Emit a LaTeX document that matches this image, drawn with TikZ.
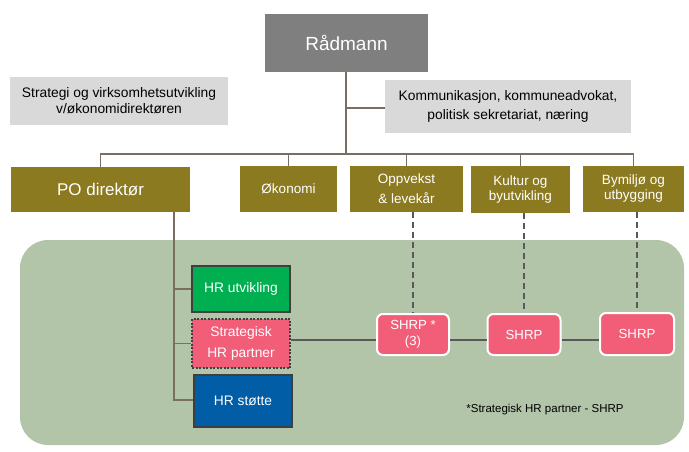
\documentclass[tikz,border=0pt]{standalone}
\usepackage{fontspec}
\setmainfont{Liberation Sans}
\usetikzlibrary{positioning}
\definecolor{radgray}{HTML}{7F7F7F}
\definecolor{lgray}{HTML}{D9D9D9}
\definecolor{olive}{HTML}{8C7A20}
\definecolor{conn}{HTML}{7A6E62}
\definecolor{region}{HTML}{B2C5A8}
\definecolor{hrgreen}{HTML}{00B050}
\definecolor{pink}{HTML}{F25E78}
\definecolor{hrblue}{HTML}{005DA6}
\definecolor{bord}{HTML}{3F3F3F}
\definecolor{dline}{HTML}{595959}
\tikzset{
  box/.style={inner sep=0pt, align=center, text=white},
  greybox/.style={box, fill=lgray, text=black, font=\fontsize{13.8}{16}\selectfont},
  olivebox/.style={box, fill=olive, font=\fontsize{13.5}{20}\selectfont},
  hrbox/.style={box, draw=bord, line width=2.5pt, font=\fontsize{13.8}{19}\selectfont},
  shrpbox/.style={box, fill=pink, draw=white, line width=2pt, rounded corners=6pt, font=\fontsize{13.2}{16}\selectfont},
  conline/.style={draw=conn, line width=1.5pt},
  darkline/.style={draw=dline, line width=2pt},
  dashline/.style={draw=dline, line width=1.5pt, dash pattern=on 6pt off 4pt},
}
\begin{document}
\begin{tikzpicture}[x=1pt,y=-1pt]
\useasboundingbox (0,0) rectangle (689,451);
% green region
\fill[region] (20,240) [rounded corners=28pt] rectangle (684,445);
% top nodes
\node[box, fill=radgray, minimum width=163pt, minimum height=58pt, font=\fontsize{19}{22}\selectfont] (rad) at (346.5,43) {Rådmann};
\node[greybox, minimum width=218pt, minimum height=48pt] (strat0) at (119,101) {Strategi og virksomhetsutvikling\\v/økonomidirektøren};
\node[greybox, minimum width=246pt, minimum height=53pt, font=\fontsize{13.8}{19}\selectfont] (komm) at (508,106.5) {Kommunikasjon, kommuneadvokat,\\politisk sekretariat, næring};
% olive row
\node[olivebox, minimum width=179pt, minimum height=45pt, font=\fontsize{17}{19}\selectfont] (po) at (100.5,189.5) {PO direktør};
\node[olivebox, minimum width=97pt, minimum height=46pt] (oko) at (288.5,189) {Økonomi};
\node[olivebox, minimum width=113pt, minimum height=46pt] (opp) at (406.5,189) {Oppvekst\\\& levekår};
\node[olivebox, minimum width=99pt, minimum height=47pt, font=\fontsize{13.5}{15}\selectfont] (kul) at (520.5,189.5) {Kultur og\\byutvikling};
\node[olivebox, minimum width=101pt, minimum height=46pt, font=\fontsize{13.5}{15}\selectfont] (bym) at (633.5,189) {Bymiljø og\\utbygging};
% trunk and bus
\coordinate (bus) at (346,154);
\coordinate (kj) at (346,108);
\draw[conline] (rad.south -| bus) -- (bus);
\draw[conline] (kj) -- (komm.west |- kj);
\draw[conline] (po.north) -- (po.north |- bus) -- (bym.north |- bus) -- (bym.north);
\draw[conline] (oko.north |- bus) -- (oko.north);
\draw[conline] (opp.north |- bus) -- (opp.north);
\draw[conline] (kul.north |- bus) -- (kul.north);
% HR boxes
\node[hrbox, fill=hrgreen, minimum width=98pt, minimum height=46pt] (hru) at (241,289) {HR utvikling};
\node[hrbox, fill=pink, draw=bord, line width=2pt, dash pattern=on 2pt off 1.5pt, minimum width=98pt, minimum height=49pt, font=\fontsize{13.8}{21}\selectfont] (shp) at (241,343.5) {Strategisk\\HR partner};
\node[hrbox, fill=hrblue, minimum width=98pt, minimum height=52pt] (hrs) at (243,401) {HR støtte};
% PO stem
\coordinate (stem) at (174,400);
\draw[conline] (po.south -| stem) -- (stem) -- (hrs.west |- stem);
\draw[conline] (hru.west) -- (hru.west -| stem);
\draw[conline] (shp.west) -- (shp.west -| stem);
% SHRP boxes
\node[shrpbox, minimum width=72pt, minimum height=41pt] (s1) at (413,334.5) {SHRP *\\(3)};
\node[shrpbox, minimum width=73pt, minimum height=41pt] (s2) at (524,334.5) {SHRP};
\node[shrpbox, minimum width=74pt, minimum height=42pt] (s3) at (637,334) {SHRP};
\coordinate (hl) at (0,340);
\draw[darkline] (shp.east |- hl) -- (s1.west |- hl);
\draw[darkline] (s1.east |- hl) -- (s2.west |- hl);
\draw[darkline] (s2.east |- hl) -- (s3.west |- hl);
\draw[dashline] (s1.north |- opp.south) -- (s1.north);
\draw[dashline] (s2.north |- kul.south) -- (s2.north);
\draw[dashline] (s3.north |- bym.south) -- (s3.north);
% footnote
\node[font=\fontsize{11.5}{13}\selectfont, inner sep=0pt] (fn) at (545,410) {*Strategisk HR partner - SHRP};
\end{tikzpicture}
\end{document}
